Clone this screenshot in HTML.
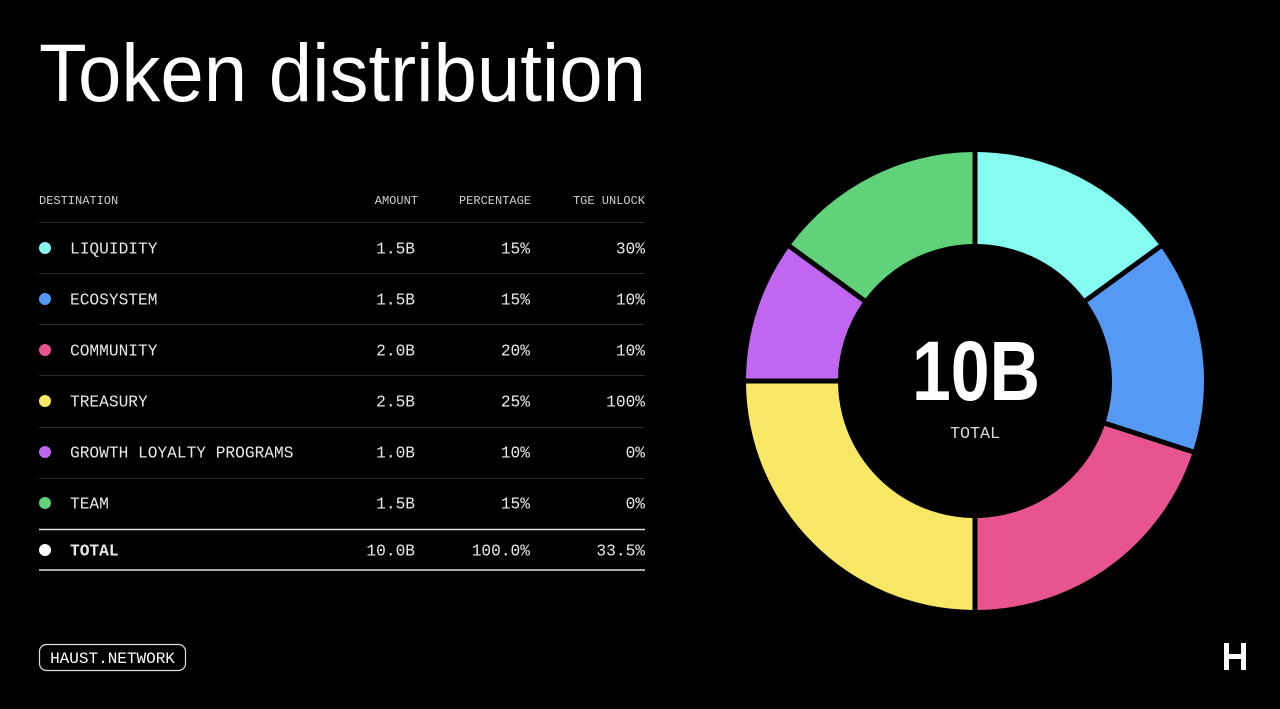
<!DOCTYPE html>
<html><head><meta charset="utf-8"><style>
html,body{margin:0;padding:0;background:#000;}
svg{display:block}
</style></head><body>
<svg id="s" width="1280" height="709" viewBox="0 0 1280 709" xmlns="http://www.w3.org/2000/svg">
<rect width="1280" height="709" fill="#000"/>
<text x="39" y="101" fill="#fff" font-family="Liberation Sans, sans-serif" font-size="82" textLength="607" lengthAdjust="spacingAndGlyphs">Token distribution</text>
<g font-family="Liberation Mono, monospace" fill="#cfcfcf" font-size="12">
<text x="39" y="204">DESTINATION</text>
<text x="418" y="204" text-anchor="end">AMOUNT</text>
<text x="531" y="204" text-anchor="end">PERCENTAGE</text>
<text x="645" y="204" text-anchor="end">TGE UNLOCK</text>
</g>
<g stroke="#2a2a2a" stroke-width="1">
<line x1="39" x2="645" y1="222.5" y2="222.5"/><line x1="39" x2="645" y1="273.5" y2="273.5"/>
<line x1="39" x2="645" y1="324.5" y2="324.5"/><line x1="39" x2="645" y1="375.5" y2="375.5"/>
<line x1="39" x2="645" y1="427.5" y2="427.5"/><line x1="39" x2="645" y1="478.5" y2="478.5"/>
</g>
<line x1="39" x2="645" y1="529.5" y2="529.5" stroke="#e0e0e0" stroke-width="1.5"/>
<line x1="39" x2="645" y1="570" y2="570" stroke="#e0e0e0" stroke-width="1.5"/>
<g id="rows" font-family="Liberation Mono, monospace" fill="#e8e8e8" font-size="16.2"></g>
<g id="donut"></g>
<text x="976" y="400" text-anchor="middle" fill="#fff" font-family="Liberation Sans, sans-serif" font-size="84" font-weight="bold" textLength="128" lengthAdjust="spacingAndGlyphs">10B</text>
<text x="975" y="438" text-anchor="middle" fill="#d8d8d8" font-family="Liberation Mono, monospace" font-size="16.7">TOTAL</text>
<rect x="39.5" y="644.5" width="146" height="26" rx="7" fill="none" stroke="#e0e0e0" stroke-width="1.2"/>
<text x="112.5" y="663" text-anchor="middle" fill="#fff" font-family="Liberation Mono, monospace" font-size="16">HAUST.NETWORK</text>
<g fill="#fff">
<rect x="1224" y="643" width="5" height="27"/>
<rect x="1241" y="643" width="5" height="27"/>
<rect x="1226" y="654" width="18" height="5"/>
</g>
</svg>
<script>
var NS="http://www.w3.org/2000/svg";
var rows=[["#86fcf1","LIQUIDITY","1.5B","15%","30%",248],["#5499f3","ECOSYSTEM","1.5B","15%","10%",299],["#e8548f","COMMUNITY","2.0B","20%","10%",350],["#f9e866","TREASURY","2.5B","25%","100%",401],["#c066f0","GROWTH LOYALTY PROGRAMS","1.0B","10%","0%",452],["#5fd27a","TEAM","1.5B","15%","0%",503],["#fff","TOTAL","10.0B","100.0%","33.5%",550]];
var g=document.getElementById("rows");
function t(x,y,s,a,b){var e=document.createElementNS(NS,"text");e.setAttribute("x",x);e.setAttribute("y",y);if(a)e.setAttribute("text-anchor",a);if(b)e.setAttribute("font-weight","bold");e.textContent=s;g.appendChild(e);}
rows.forEach(function(r,i){var y=r[5]+5.5;var c=document.createElementNS(NS,"circle");c.setAttribute("cx",45);c.setAttribute("cy",r[5]);c.setAttribute("r",6);c.setAttribute("fill",r[0]);g.appendChild(c);
var b=i==6;t(70,y,r[1],null,b);t(415,y,r[2],"end");t(530,y,r[3],"end");t(645,y,r[4],"end");});
var cx=975,cy=381,R=229,r=137;var segs=[[15,"#86fcf1"],[15,"#5499f3"],[20,"#e8548f"],[25,"#f9e866"],[10,"#c066f0"],[15,"#5fd27a"]];
var d=document.getElementById("donut");var a0=0;
function p(rad,a){return (cx+rad*Math.sin(a)).toFixed(2)+","+(cy-rad*Math.cos(a)).toFixed(2);}
segs.forEach(function(s){var a1=a0+s[0]/100*2*Math.PI;var go=2.5/R,gi=2.5/r;
var large=(a1-a0)>Math.PI?1:0;
var path="M"+p(R,a0+go)+" A"+R+","+R+" 0 "+large+" 1 "+p(R,a1-go)+" L"+p(r,a1-gi)+" A"+r+","+r+" 0 "+large+" 0 "+p(r,a0+gi)+" Z";
var e=document.createElementNS(NS,"path");e.setAttribute("d",path);e.setAttribute("fill",s[1]);d.appendChild(e);a0=a1;});
</script>
</body></html>
